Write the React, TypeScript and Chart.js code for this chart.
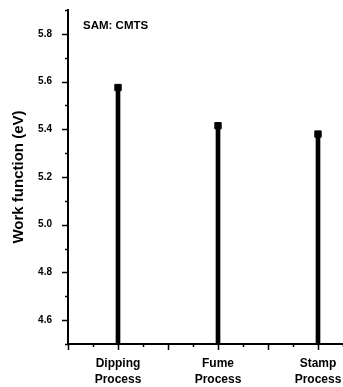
import React, { useEffect, useRef } from "react";
import { Chart, registerables } from "chart.js";

Chart.register(...registerables);

const categories = ["Dipping Process", "Fume Process", "Stamp Process"];
const categoryLabels = [["Dipping", "Process"], ["Fume", "Process"], ["Stamp", "Process"]];
const categoryPositions = [1, 2, 3];
const workFunction = [5.575, 5.415, 5.38];
const yTickLabels = [4.6, 4.8, 5.0, 5.2, 5.4, 5.6, 5.8];
const yMin = 4.5;
const yMax = 5.9;
const xMin = 0.5;
const xMax = 3.25;
const annotationText = "SAM: CMTS";
const yTitle = "Work function (eV)";

const FONT = "'Liberation Sans', Arial, Helvetica, sans-serif";

const tickPlugin = {
  id: "customTicks",
  afterDraw(chart: any) {
    const ctx = chart.ctx;
    const xs = chart.scales.x;
    const ys = chart.scales.y;
    const area = chart.chartArea;
    ctx.save();
    ctx.strokeStyle = "#000";
    ctx.lineWidth = 1.5;
    for (let i = 0; i <= Math.round((yMax - yMin) / 0.1); i++) {
      const v = yMin + i * 0.1;
      const major = yTickLabels.some((t) => Math.abs(t - v) < 1e-6);
      const py = Math.round(ys.getPixelForValue(v)) + 0.5;
      const len = major ? 6 : 3;
      ctx.beginPath();
      ctx.moveTo(area.left - len, py);
      ctx.lineTo(area.left, py);
      ctx.stroke();
    }
    for (let i = 0; i <= Math.round((xMax - xMin) / 0.25); i++) {
      const v = xMin + i * 0.25;
      const major = Math.abs(v * 2 - Math.round(v * 2)) < 1e-6;
      const px = Math.round(xs.getPixelForValue(v)) + 0.5;
      const len = major ? 6 : 3;
      ctx.beginPath();
      ctx.moveTo(px, area.bottom);
      ctx.lineTo(px, area.bottom + len);
      ctx.stroke();
    }
    ctx.fillStyle = "#000";
    ctx.font = `bold 11.5px ${FONT}`;
    ctx.textBaseline = "middle";
    ctx.textAlign = "left";
    ctx.fillText(annotationText, area.left + 15, area.top + 16);
    ctx.restore();
  },
};

export default function App() {
  const ref = useRef<HTMLCanvasElement | null>(null);

  useEffect(() => {
    if (!ref.current) return;
    const chart = new Chart(ref.current, {
      type: "bar",
      data: {
        datasets: [
          {
            type: "bar",
            label: "Work function",
            data: categoryPositions.map((x, i) => ({ x, y: workFunction[i] })),
            backgroundColor: "#000",
            borderWidth: 0,
            barThickness: 4,
          } as any,
          {
            type: "scatter",
            label: "marker",
            data: categoryPositions.map((x, i) => ({ x, y: workFunction[i] })),
            pointStyle: "rect",
            pointRadius: 4.5,
            pointBackgroundColor: "#000",
            pointBorderColor: "#000",
            pointBorderWidth: 1,
          } as any,
        ],
      },
      options: {
        animation: false,
        responsive: false,
        layout: { autoPadding: false, padding: { top: 10, right: 0, left: 0, bottom: 0 } },
        plugins: { legend: { display: false }, tooltip: { enabled: false } },
        scales: {
          x: {
            type: "linear",
            min: xMin,
            max: xMax,
            offset: false,
            grid: { display: false, drawTicks: false },
            border: { display: true, color: "#000", width: 2 },
            afterBuildTicks: (scale: any) => {
              scale.ticks = categoryPositions.map((v) => ({ value: v }));
            },
            afterFit: (scale: any) => {
              scale.height = 43;
              scale.paddingLeft = 0;
              scale.paddingRight = 0;
            },
            ticks: {
              autoSkip: false,
              maxRotation: 0,
              padding: 12,
              color: "#000",
              font: { family: FONT, size: 12, weight: "bold", lineHeight: 1.33 },
              callback: (v: any) => {
                const idx = categoryPositions.indexOf(Number(v));
                return idx >= 0 ? categoryLabels[idx] : "";
              },
            },
          },
          y: {
            type: "linear",
            min: yMin,
            max: yMax,
            grid: { display: false, drawTicks: false },
            border: { display: true, color: "#000", width: 2 },
            afterBuildTicks: (scale: any) => {
              scale.ticks = yTickLabels.map((v) => ({ value: v }));
            },
            afterFit: (scale: any) => {
              scale.width = 68;
              scale.paddingTop = 0;
              scale.paddingBottom = 0;
            },
            ticks: {
              padding: 16,
              color: "#000",
              font: { family: FONT, size: 10, weight: "bold" },
              callback: (v: any) => Number(v).toFixed(1),
            },
            title: {
              display: true,
              text: yTitle,
              color: "#000",
              font: { family: FONT, size: 15, weight: "bold" },
              padding: { top: 10, bottom: 0 },
            },
          },
        },
      },
      plugins: [tickPlugin],
    } as any);
    return () => chart.destroy();
  }, []);

  return (
    <div style={{ position: "absolute", left: 0, top: 0, width: 343, height: 387, background: "#fff" }}>
      <canvas ref={ref} width={343} height={387} style={{ width: 343, height: 387, display: "block" }} aria-label={categories.join(", ")} />
    </div>
  );
}
